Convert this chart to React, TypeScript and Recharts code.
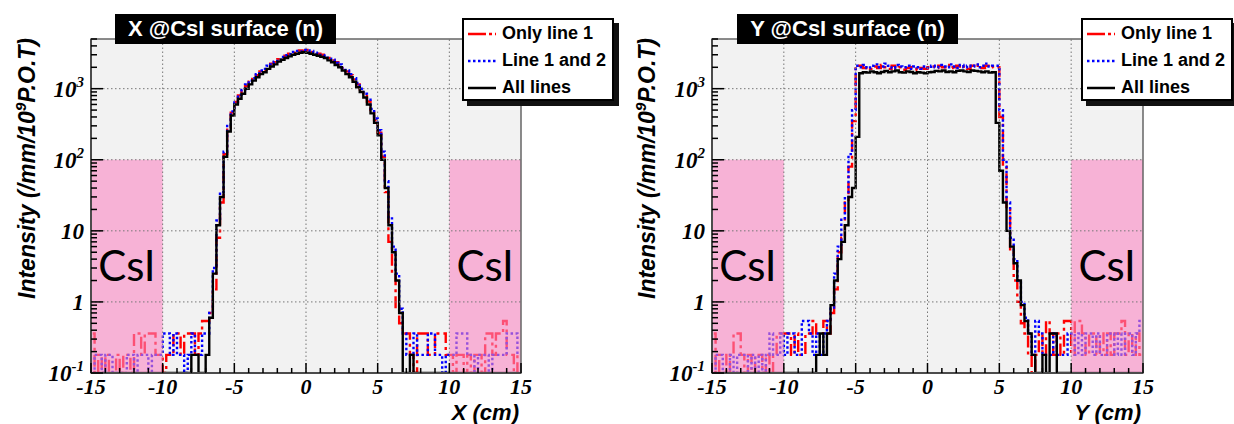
import React from "react";
import {
  LineChart,
  Line,
  XAxis,
  YAxis,
  CartesianGrid,
  ReferenceLine,
  ReferenceArea,
  Legend,
} from "recharts";

// bin centres, 0.25 cm wide bins from -15 to 15
const BIN_CENTERS = Array.from({ length: 120 }, (_, i) => -14.875 + 0.25 * i);

// ---- X @CsI surface ----
const X_ONLY1 = [
  0.36, 0.1, 0.18, 0.1, 0.18, 0.1, 0.1, 0.18, 0.1, 0.18, 0.18, 0.1, 0.36, 0.36, 0.18, 0.36,
  0.36, 0.36, 0.18, 0.18, 0.1, 0.18, 0.18, 0.36, 0.36, 0.18, 0.36, 0.36, 0.36, 0.18, 0.36, 0.54,
  0.54, 0.7, 1.5, 8, 25, 120, 280, 460, 650, 800, 930, 1100, 1250, 1450, 1550, 1750,
  1850, 2000, 2250, 2350, 2600, 2700, 2900, 3100, 3200, 3350, 3450, 3400, 3500, 3300, 3250, 3100,
  3000, 2850, 2700, 2500, 2350, 2150, 1950, 1750, 1550, 1350, 1150, 980, 820, 660, 500, 360,
  240, 110, 35, 7, 2.5, 0.8, 0.5, 0.36,
  0.36, 0.18, 0.1, 0.36, 0.36, 0.36, 0.18, 0.18, 0.36, 0.36, 0.36, 0.18, 0.18, 0.1, 0.18, 0.18,
  0.1, 0.18, 0.1, 0.18, 0.18, 0.1, 0.36, 0.36, 0.18, 0.36, 0.36, 0.54, 0.18, 0.18, 0.1, 0.18,
];
const X_LINE12 = [
  0.1, 0.18, 0.18, 0.1, 0.18, 0.18, 0.1, 0.1, 0.1, 0.1, 0.18, 0.18, 0.1, 0.18, 0.18, 0.18,
  0.1, 0.18, 0.18, 0.18, 0.36, 0.36, 0.18, 0.36, 0.18, 0.18, 0.1, 0.18, 0.36, 0.18, 0.18, 0.36,
  0.36, 0.7, 3, 14, 35, 130, 300, 480, 640, 820, 960, 1150, 1300, 1400, 1600, 1800,
  1900, 2100, 2200, 2400, 2550, 2800, 2950, 3050, 3300, 3400, 3350, 3500, 3450, 3400, 3200, 3150,
  2950, 2900, 2650, 2550, 2300, 2200, 1950, 1800, 1600, 1400, 1200, 1000, 850, 700, 520, 380,
  260, 130, 50, 15, 6, 2.5, 0.8, 0.36,
  0.18, 0.18, 0.36, 0.18, 0.18, 0.18, 0.36, 0.36, 0.18, 0.18, 0.1, 0.18, 0.18, 0.18, 0.36, 0.36,
  0.36, 0.18, 0.18, 0.1, 0.18, 0.18, 0.18, 0.1, 0.18, 0.18, 0.18, 0.18, 0.36, 0.36, 0.36, 0.18,
];
const X_ALL = [
  0.1, 0.1, 0.1, 0.1, 0.1, 0.1, 0.1, 0.1, 0.1, 0.1, 0.1, 0.1, 0.1, 0.1, 0.1, 0.1,
  0.1, 0.1, 0.1, 0.1, 0.1, 0.1, 0.1, 0.1, 0.1, 0.1, 0.1, 0.1, 0.18, 0.18, 0.1, 0.1,
  0.18, 0.6, 2.5, 12, 30, 110, 250, 420, 600, 720, 850, 1000, 1150, 1300, 1450, 1600,
  1700, 1900, 2050, 2200, 2400, 2550, 2700, 2850, 3000, 3100, 3200, 3250, 3200, 3100, 3000, 2900,
  2800, 2700, 2500, 2350, 2150, 2000, 1800, 1600, 1450, 1250, 1050, 900, 750, 600, 450, 330,
  220, 100, 40, 12, 5, 2, 0.7, 0.1,
  0.1, 0.18, 0.1, 0.1, 0.1, 0.1, 0.1, 0.1, 0.1, 0.1, 0.1, 0.1, 0.1, 0.1, 0.1, 0.1,
  0.1, 0.1, 0.1, 0.1, 0.1, 0.1, 0.1, 0.1, 0.1, 0.1, 0.1, 0.1, 0.1, 0.1, 0.1, 0.1,
];

// ---- Y @CsI surface ----
const Y_ONLY1 = [
  0.36, 0.1, 0.18, 0.18, 0.1, 0.18, 0.36, 0.36, 0.18, 0.1, 0.18, 0.1, 0.18, 0.18, 0.1, 0.18,
  0.1, 0.18, 0.36, 0.36, 0.36, 0.36, 0.18, 0.36, 0.18,
  0.18, 0.36, 0.36, 0.54, 0.36, 0.36, 0.54, 0.36, 0.7, 1.5, 5, 8, 25, 80, 350, 2000,
  2100, 1950, 2000, 1900, 2050, 1950, 2150, 2000, 1900, 2100, 1950, 2000, 1850, 1950, 2000, 1900,
  1850, 1950, 1900, 2000, 2050, 1950, 2100, 2000, 2150, 1950, 2000, 2100, 1950, 2050, 1900, 2100,
  2000, 2150, 1950, 2100, 2000, 2050,
  2000, 400, 80, 20, 5, 2, 1, 0.5, 0.36, 0.18,
  0.1, 0.18, 0.36, 0.18, 0.54, 0.36, 0.18, 0.36, 0.18, 0.54, 0.54, 0.18, 0.54, 0.54, 0.36, 0.18,
  0.36, 0.36, 0.18, 0.36, 0.18, 0.36, 0.18, 0.36, 0.36, 0.54, 0.18, 0.36, 0.18, 0.36, 0.18,
];
const Y_LINE12 = [
  0.1, 0.18, 0.18, 0.1, 0.1, 0.18, 0.1, 0.18, 0.18, 0.18, 0.1, 0.18, 0.1, 0.18, 0.1, 0.18,
  0.36, 0.18, 0.18, 0.36, 0.18, 0.36, 0.36, 0.18, 0.18,
  0.54, 0.54, 0.36, 0.18, 0.36, 0.18, 0.36, 0.54, 0.8, 2.5, 6, 15, 30, 120, 500, 2100,
  2000, 2150, 1950, 2100, 2200, 2000, 2050, 2250, 2100, 1950, 2150, 2050, 2000, 2100, 1900, 2050,
  2000, 1900, 2050, 1950, 2100, 2000, 2150, 2050, 2000, 2200, 2050, 1950, 2150, 2000, 2100, 2050,
  2200, 2000, 2100, 2250, 2050, 2100,
  2100, 500, 100, 25, 8, 4, 2, 1, 0.6, 0.36,
  0.18, 0.54, 0.36, 0.18, 0.18, 0.18, 0.36, 0.18, 0.18, 0.18, 0.36, 0.36, 0.18, 0.36, 0.18, 0.36,
  0.36, 0.18, 0.36, 0.18, 0.18, 0.36, 0.36, 0.18, 0.36, 0.18, 0.36, 0.36, 0.18, 0.36, 0.54,
];
const Y_ALL = [
  0.1, 0.1, 0.1, 0.1, 0.1, 0.1, 0.1, 0.1, 0.1, 0.1, 0.1, 0.1, 0.1, 0.1, 0.1, 0.1,
  0.1, 0.1, 0.1, 0.1, 0.1, 0.1, 0.1, 0.1, 0.1, 0.1, 0.1, 0.1,
  0.1, 0.18, 0.36, 0.18, 0.36, 0.9, 2, 4, 7, 12, 30, 40, 210,
  1650, 1700, 1680, 1750, 1700, 1650, 1720, 1780, 1700, 1750, 1800, 1700, 1680, 1750, 1720, 1650,
  1700, 1680, 1650, 1700, 1720, 1780, 1750, 1800, 1720, 1750, 1700, 1780, 1800, 1750, 1720, 1800,
  1780, 1750, 1700, 1750, 1680, 1700,
  330, 70, 25, 10, 6, 3.5, 2, 0.9, 0.54, 0.36,
  0.18, 0.1, 0.1, 0.18, 0.1, 0.36, 0.36, 0.1, 0.1, 0.1, 0.1, 0.1, 0.1, 0.1, 0.1, 0.1,
  0.1, 0.1, 0.1, 0.1, 0.1, 0.1, 0.1, 0.1, 0.1, 0.1, 0.1, 0.1, 0.1, 0.1, 0.1,
];

// ---- axes ----
const X_TICKS = [
  -15, -14, -13, -12, -11, -10, -9, -8, -7, -6, -5, -4, -3, -2, -1, 0,
  1, 2, 3, 4, 5, 6, 7, 8, 9, 10, 11, 12, 13, 14, 15,
];
const X_MAJOR = [-15, -10, -5, 0, 5, 10, 15];
const X_LABELS = ["-15", "-10", "-5", "0", "5", "10", "15"];
const X_GRID = [-10, -5, 0, 5, 10];

const Y_TICKS = [
  0.1, 0.2, 0.3, 0.4, 0.5, 0.6, 0.7, 0.8, 0.9,
  1, 2, 3, 4, 5, 6, 7, 8, 9,
  10, 20, 30, 40, 50, 60, 70, 80, 90,
  100, 200, 300, 400, 500, 600, 700, 800, 900,
  1000, 2000, 3000, 4000, 5000,
];
const Y_MAJOR = [0.1, 1, 10, 100, 1000];
const Y_LABEL_BASE = ["10", "1", "10", "10", "10"];
const Y_LABEL_EXP = ["-1", "", "", "2", "3"];
const Y_GRID = [1, 10, 100, 1000];

const SERIES = [
  { key: "only1", name: "Only line 1", color: "#ff0000", dash: "12 4 3 4", legendDash: "18 3 3 3" },
  { key: "line12", name: "Line 1 and 2", color: "#0000ff", dash: "2.5 2.5", legendDash: "2.5 2.5" },
  { key: "all", name: "All lines", color: "#000000", dash: undefined, legendDash: undefined },
];

const buildRows = (a: number[], b: number[], c: number[]) =>
  BIN_CENTERS.map((x, i) => ({ x, only1: a[i], line12: b[i], all: c[i] }));

const X_DATA = buildRows(X_ONLY1, X_LINE12, X_ALL);
const Y_DATA = buildRows(Y_ONLY1, Y_LINE12, Y_ALL);

const SERIF = "Liberation Serif, DejaVu Serif, Times New Roman, serif";
const SANS = "Liberation Sans, Arial, Helvetica, sans-serif";

const XTick = (props: any) => {
  const { x, y, payload } = props;
  const idx = X_MAJOR.indexOf(payload.value);
  const len = idx >= 0 ? 10 : 5;
  return (
    <g>
      <line x1={x} y1={y} x2={x} y2={y - len} stroke="#000" strokeWidth={1.5} />
      {idx >= 0 && (
        <text
          x={x}
          y={y + 21}
          textAnchor="middle"
          fontFamily={SERIF}
          fontWeight="bold"
          fontStyle="italic"
          fontSize={22}
          fill="#000"
        >
          {X_LABELS[idx]}
        </text>
      )}
    </g>
  );
};

const YTick = (props: any) => {
  const { x, y, payload } = props;
  const idx = Y_MAJOR.indexOf(payload.value);
  const len = idx >= 0 ? 12 : 6;
  return (
    <g>
      <line x1={x} y1={y} x2={x + len} y2={y} stroke="#000" strokeWidth={1.5} />
      {idx >= 0 && (
        <text
          x={x - 7}
          y={y + 8}
          textAnchor="end"
          fontFamily={SERIF}
          fontWeight="bold"
          fontStyle="italic"
          fontSize={23}
          fill="#000"
        >
          {Y_LABEL_BASE[idx]}
          {Y_LABEL_EXP[idx] && (
            <tspan dy={-10} fontSize={15}>
              {Y_LABEL_EXP[idx]}
            </tspan>
          )}
        </text>
      )}
    </g>
  );
};

const YTitle = () => (
  <text
    x={35}
    y={38}
    transform="rotate(-90 35 38)"
    textAnchor="end"
    fontFamily={SANS}
    fontWeight="bold"
    fontStyle="italic"
    fontSize={23}
    fill="#000"
  >
    Intensity (/mm/10
    <tspan dy={-9} fontSize={15}>9</tspan>
    <tspan dy={9}>P.O.T)</tspan>
  </text>
);

const XTitle = (props: any) => (
  <text
    x={props.px}
    y={420}
    textAnchor="end"
    fontFamily={SANS}
    fontWeight="bold"
    fontStyle="italic"
    fontSize={22}
    fill="#000"
  >
    {props.caption}
  </text>
);

const LegendBox = () => (
  <div
    style={{
      width: "100%",
      height: "100%",
      boxSizing: "border-box",
      background: "#fff",
      border: "2px solid #000",
      boxShadow: "5px 5px 0 #111",
      fontFamily: SANS,
      fontWeight: "bold",
      fontSize: 18,
      color: "#000",
      paddingTop: 0,
    }}
  >
    {SERIES.map((s) => (
      <div key={s.key} style={{ display: "flex", alignItems: "center", height: 27, paddingLeft: 4 }}>
        <svg width={28} height={6}>
          <line x1={0} y1={3} x2={28} y2={3} stroke={s.color} strokeWidth={2.5} strokeDasharray={s.legendDash} />
        </svg>
        <span style={{ marginLeft: 6 }}>{s.name}</span>
      </div>
    ))}
  </div>
);

const Panel: React.FC<{
  data: any[];
  title: string;
  axisName: string;
  width: number;
  left: number;
  right: number;
  titleLeft: number;
  legendLeft: number;
}> = ({ data, title, axisName, width, left, right, titleLeft, legendLeft }) => (
  <div style={{ position: "relative", width, height: 424 }}>
    <LineChart width={width} height={424} data={data} margin={{ top: 39, right, bottom: 21, left }}>
      <CartesianGrid horizontal={false} vertical={false} fill="#f2f2f2" />
      {SERIES.map((s) => (
        <Line
          key={s.key}
          type="step"
          dataKey={s.key}
          name={s.name}
          stroke={s.color}
          strokeWidth={2.4}
          strokeDasharray={s.dash}
          dot={false}
          activeDot={false}
          isAnimationActive={false}
        />
      ))}
      <ReferenceArea
        x1={-15}
        x2={-10}
        y1={0.1}
        y2={100}
        fill="#fa87c3"
        fillOpacity={0.6}
        stroke="none"
        zIndex={500}
        label={{ value: "CsI", position: "center", fontSize: 42, fontFamily: "Lato, sans-serif", fill: "#000" }}
      />
      <ReferenceArea
        x1={10}
        x2={15}
        y1={0.1}
        y2={100}
        fill="#fa87c3"
        fillOpacity={0.6}
        stroke="none"
        zIndex={500}
        label={{ value: "CsI", position: "center", fontSize: 42, fontFamily: "Lato, sans-serif", fill: "#000" }}
      />
      {X_GRID.map((v) => (
        <ReferenceLine key={`gx${v}`} x={v} stroke="#777" strokeDasharray="1.5 2.5" zIndex={600} />
      ))}
      {Y_GRID.map((v) => (
        <ReferenceLine key={`gy${v}`} y={v} stroke="#777" strokeDasharray="1.5 2.5" zIndex={600} />
      ))}
      <ReferenceArea x1={-15} x2={15} y1={0.1} y2={5000} fill="none" stroke="#666" strokeWidth={1.5} zIndex={600} />
      <XAxis
        dataKey="x"
        type="number"
        domain={[-15, 15]}
        allowDataOverflow
        ticks={X_TICKS}
        interval={0}
        tickSize={0}
        tickMargin={0}
        tickLine={false}
        tick={<XTick />}
        axisLine={{ stroke: "#000", strokeWidth: 2 }}
        height={30}
        label={<XTitle px={width - right - 2} caption={axisName} />}
      />
      <YAxis
        type="number"
        scale="log"
        domain={[0.1, 5000]}
        allowDataOverflow
        ticks={Y_TICKS}
        interval={0}
        tickSize={0}
        tickMargin={0}
        tickLine={false}
        tick={<YTick />}
        axisLine={{ stroke: "#000", strokeWidth: 2 }}
        width={50}
        label={<YTitle />}
      />
      <Legend
        layout="horizontal"
        verticalAlign="middle"
        align="center"
        content={<LegendBox />}
        wrapperStyle={{ left: legendLeft, top: 18, width: 152, height: 83 }}
      />
    </LineChart>
    <div
      style={{
        position: "absolute",
        left: titleLeft,
        top: 14,
        width: 221,
        height: 30,
        background: "#000",
        color: "#fff",
        fontFamily: SANS,
        fontWeight: "bold",
        fontSize: 22,
        lineHeight: "30px",
        textAlign: "center",
      }}
    >
      {title}
    </div>
  </div>
);

export default function App() {
  return (
    <div style={{ position: "absolute", left: 0, top: 0, width: 1234, height: 424, background: "#fff", display: "flex" }}>
      <Panel data={X_DATA} title="X @CsI surface (n)" axisName="X (cm)" width={620} left={41} right={99} titleLeft={115} legendLeft={462} />
      <Panel data={Y_DATA} title="Y @CsI surface (n)" axisName="Y (cm)" width={614} left={42} right={91} titleLeft={117} legendLeft={461} />
    </div>
  );
}
